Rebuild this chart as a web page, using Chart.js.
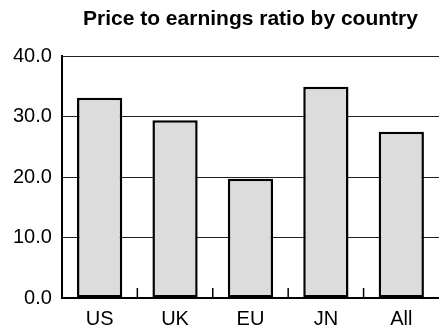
<!DOCTYPE html>
<html>
<head>
<meta charset="utf-8">
<script src="https://cdn.jsdelivr.net/npm/chart.js@4.4.0/dist/chart.umd.min.js"></script>
<style>
  html, body { margin: 0; padding: 0; background: #fff; }
  #wrap { position: relative; width: 439px; height: 329px; }
</style>
</head>
<body>
<div id="wrap"><canvas id="chart"></canvas></div>
<script>
// data
const countries = ["US", "UK", "EU", "JN", "All"];
const peRatios = [33.1, 29.4, 19.7, 34.9, 27.5];
const yTicks = [0, 10, 20, 30, 40];
const chartTitle = "Price to earnings ratio by country";

const fontFamily = "'Liberation Sans', Arial, Helvetica, sans-serif";

// title centred over the plot area, like the original
const titlePlugin = {
  id: "plotTitle",
  afterDraw(chart) {
    const { ctx, chartArea } = chart;
    ctx.save();
    ctx.font = "bold 21px " + fontFamily;
    ctx.fillStyle = "#000";
    ctx.textAlign = "center";
    ctx.textBaseline = "alphabetic";
    ctx.fillText(chartTitle, (chartArea.left + chartArea.right) / 2, 25);
    ctx.restore();
  }
};

// short upward tick marks between the categories
const dividerTicks = {
  id: "dividerTicks",
  afterDraw(chart) {
    const { ctx, chartArea, scales } = chart;
    const x = scales.x;
    ctx.save();
    ctx.strokeStyle = "#000";
    ctx.lineWidth = 1.5;
    for (let i = 1; i < countries.length; i++) {
      const px = (x.getPixelForValue(i - 1) + x.getPixelForValue(i)) / 2;
      ctx.beginPath();
      ctx.moveTo(px, chartArea.bottom);
      ctx.lineTo(px, chartArea.bottom - 10);
      ctx.stroke();
    }
    ctx.restore();
  }
};

new Chart(document.getElementById("chart"), {
  type: "bar",
  data: {
    labels: countries,
    datasets: [
      {
        data: peRatios,
        backgroundColor: "#dcdcdc",
        borderColor: "#000",
        borderWidth: 2.5,
        borderSkipped: false,
        barPercentage: 0.6,
        categoryPercentage: 1
      }
    ]
  },
  options: {
    responsive: true,
    maintainAspectRatio: false,
    animation: false,
    layout: {
      padding: { top: 56, left: 3, right: 0, bottom: -11 }
    },
    plugins: {
      legend: { display: false },
      title: { display: false },
      tooltip: { enabled: false }
    },
    scales: {
      x: {
        grid: { display: false, drawTicks: false },
        border: { display: true, color: "#000", width: 2 },
        ticks: {
          color: "#000",
          padding: 9,
          font: { family: fontFamily, size: 20 }
        }
      },
      y: {
        min: yTicks[0],
        max: yTicks[yTicks.length - 1],
        afterBuildTicks(scale) {
          scale.ticks = yTicks.map(v => ({ value: v }));
        },
        grid: { color: "#222", lineWidth: 1, drawTicks: false },
        border: { display: true, color: "#000", width: 2 },
        ticks: {
          color: "#000",
          padding: 10,
          font: { family: fontFamily, size: 20 },
          callback: v => v.toFixed(1)
        }
      }
    }
  },
  plugins: [titlePlugin, dividerTicks]
});
</script>
</body>
</html>
